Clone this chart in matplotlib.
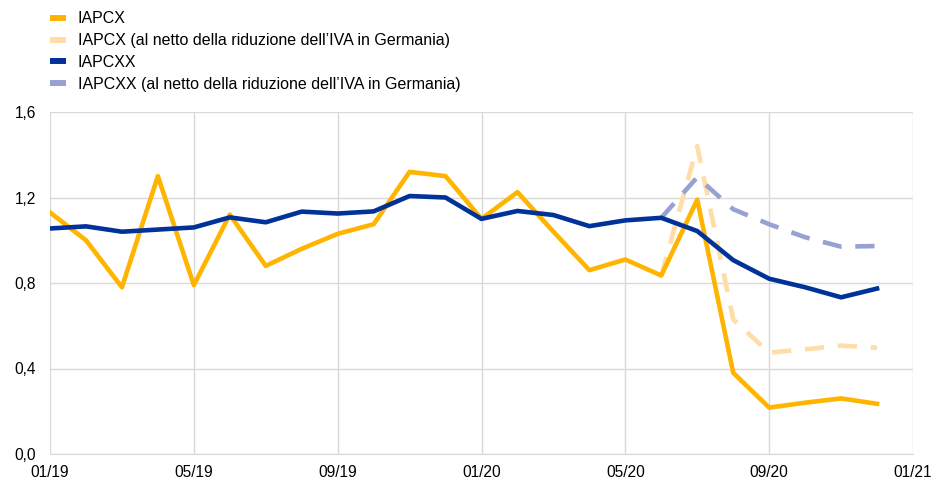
import matplotlib
matplotlib.use("Agg")
import matplotlib.pyplot as plt
from matplotlib.lines import Line2D

plt.rcParams['font.family'] = ['Liberation Sans', 'DejaVu Sans']

# Monthly data, 01/2019 .. 12/2020
months = list(range(24))
iapcx = [1.13, 1.00, 0.78, 1.30, 0.79, 1.12, 0.88, 0.96, 1.03, 1.075, 1.32, 1.30,
         1.10, 1.225, 1.04, 0.86, 0.91, 0.835, 1.19, 0.38, 0.217, 0.24, 0.26, 0.235]
iapcxx = [1.055, 1.065, 1.04, 1.05, 1.06, 1.107, 1.084, 1.134, 1.125, 1.135, 1.207, 1.20,
          1.10, 1.137, 1.118, 1.066, 1.093, 1.105, 1.043, 0.907, 0.82, 0.78, 0.733, 0.774]
adj_months = [17, 18, 19, 20, 21, 22, 23]
iapcx_adj = [0.835, 1.44, 0.63, 0.474, 0.49, 0.507, 0.497]
iapcxx_adj = [1.105, 1.295, 1.145, 1.075, 1.014, 0.97, 0.973]

xtick_pos = [0, 4, 8, 12, 16, 20, 24]
xtick_labels = ['01/19', '05/19', '09/19', '01/20', '05/20', '09/20', '01/21']
ytick_vals = [0.0, 0.4, 0.8, 1.2, 1.6]
ytick_labels = ['0,0', '0,4', '0,8', '1,2', '1,6']
labels = ['IAPCX', "IAPCX (al netto della riduzione dell\u2019IVA in Germania)",
          'IAPCXX', "IAPCXX (al netto della riduzione dell\u2019IVA in Germania)"]

c_yel = '#FFB400'
c_yel_l = '#FEDDA6'
c_blu = '#003299'
c_blu_l = '#98A2D2'

fig = plt.figure(figsize=(9.33, 4.79), dpi=100)
ax = fig.add_axes([50/933, 1-454/479, (913-50)/933, (454-112)/479])

lw = 3.3
ax.plot(adj_months, iapcx_adj, color=c_yel_l, lw=lw, dashes=(4.2, 3.0), zorder=3)
ax.plot(adj_months, iapcxx_adj, color=c_blu_l, lw=lw, dashes=(4.2, 3.0), zorder=3)
ax.plot(months, iapcx, color=c_yel, lw=lw, zorder=4)
ax.plot(months, iapcxx, color=c_blu, lw=lw, zorder=5)

ax.set_xlim(0, 24)
ax.set_ylim(0, 1.6)
ax.set_xticks(xtick_pos)
ax.set_xticklabels(xtick_labels)
ax.set_yticks(ytick_vals)
ax.set_yticklabels(ytick_labels)
ax.grid(True, color='#D9D9D9', lw=1.0)
ax.set_axisbelow(True)
for s in ['top', 'right', 'left']:
    ax.spines[s].set_visible(False)
ax.spines['bottom'].set_color('#D9D9D9')
ax.tick_params(axis='both', length=0, labelsize=11.2, colors='#000000')
ax.tick_params(axis='x', pad=8)
ax.tick_params(axis='y', pad=10)

handles = [Line2D([], [], color=c, lw=4.3, solid_capstyle='butt') for c in [c_yel, c_yel_l, c_blu, c_blu_l]]
leg = fig.legend(handles, labels, loc='upper left', bbox_to_anchor=(44/933, 1-5/479),
                 frameon=False, fontsize=11.5, handlelength=0.95, handletextpad=0.75,
                 labelspacing=0.42, borderaxespad=0)

fig.savefig('out.png', dpi=100)
